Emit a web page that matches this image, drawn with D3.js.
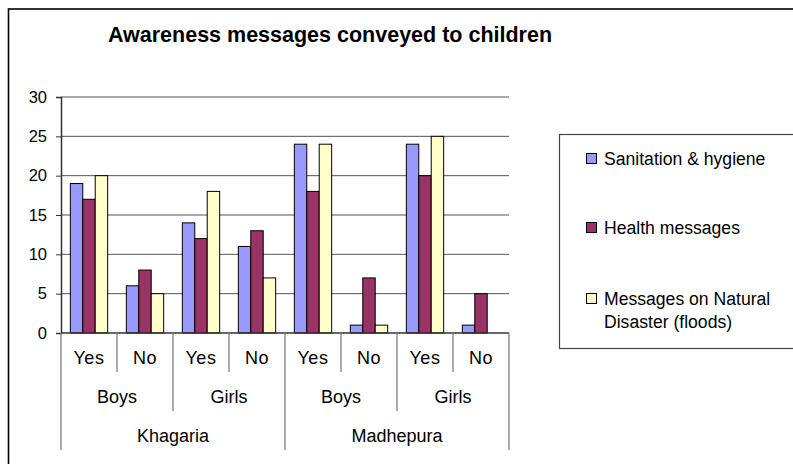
<!DOCTYPE html>
<html>
<head>
<meta charset="utf-8">
<script src="https://cdn.jsdelivr.net/npm/d3@7"></script>
<style>
  body { margin: 0; background: #fff; }
  svg { display: block; font-family: "Liberation Sans", Arial, sans-serif; }
</style>
</head>
<body>
<div id="chart"></div>
<script>
// chart data
var districts = ["Khagaria", "Madhepura"];
var genders = ["Boys", "Girls"];
var answers = ["Yes", "No"];
var seriesNames = ["Sanitation & hygiene", "Health messages", "Messages on Natural Disaster (floods)"];
var sanitation = [19, 6, 14, 11, 24, 1, 24, 1];
var health = [17, 8, 12, 13, 18, 7, 20, 5];
var disaster = [20, 5, 18, 7, 24, 1, 25, 0];
var yTicks = [0, 5, 10, 15, 20, 25, 30];

var colors = ["#9999ff", "#993366", "#ffffcc"];
var seriesValues = [sanitation, health, disaster];

var W = 793, H = 464;
var plotLeft = 61, plotRight = 509, plotTop = 97, plotBottom = 333;

// one category per district / gender / answer
var cats = [];
districts.forEach(function(d) {
    genders.forEach(function(g) {
        answers.forEach(function(a) {
            cats.push({ district: d, gender: g, answer: a, key: d + "|" + g + "|" + a });
        });
    });
});

var svg = d3.select("#chart").append("svg")
    .attr("width", W)
    .attr("height", H);

// outer chart border (runs off the right and bottom edges)
svg.append("rect")
    .attr("x", 8.5).attr("y", 9)
    .attr("width", W + 20).attr("height", H + 20)
    .attr("fill", "none")
    .attr("stroke", "#000")
    .attr("stroke-width", 1.6);

svg.append("text")
    .text("Awareness messages conveyed to children")
    .attr("x", 330).attr("y", 42)
    .attr("text-anchor", "middle")
    .attr("font-size", 21.5)
    .attr("font-weight", "bold");

var x = d3.scaleBand()
    .domain(cats.map(function(c) { return c.key; }))
    .range([plotLeft, plotRight])
    .paddingInner(1 / 3)
    .paddingOuter(1 / 6);

var xSub = d3.scaleBand()
    .domain(d3.range(seriesNames.length))
    .range([0, x.bandwidth()]);

var y = d3.scaleLinear().domain([0, 30]).range([plotBottom, plotTop]);

// gridlines
svg.append("g")
    .selectAll("line")
    .data(yTicks.slice(1))
    .join("line")
    .attr("x1", plotLeft).attr("x2", plotRight)
    .attr("y1", function(d) { return y(d); })
    .attr("y2", function(d) { return y(d); })
    .attr("stroke", "#555")
    .attr("stroke-width", 1);

// bars
var groups = svg.append("g")
    .selectAll("g")
    .data(cats)
    .join("g")
    .attr("transform", function(c) { return "translate(" + x(c.key) + ",0)"; });

groups.selectAll("rect")
    .data(function(c, i) {
        return seriesValues.map(function(vals, s) { return { s: s, v: vals[i] }; });
    })
    .join("rect")
    .filter(function(d) { return d.v > 0; })
    .attr("x", function(d) { return xSub(d.s); })
    .attr("width", xSub.bandwidth())
    .attr("y", function(d) { return y(d.v); })
    .attr("height", function(d) { return plotBottom - y(d.v); })
    .attr("fill", function(d) { return colors[d.s]; })
    .attr("stroke", "#000")
    .attr("stroke-width", 1);

// y axis
var yAxis = svg.append("g")
    .attr("transform", "translate(" + plotLeft + ",0)")
    .call(d3.axisLeft(y).tickValues(yTicks).tickSize(5).tickPadding(9));
yAxis.select(".domain").attr("stroke", "#333").attr("stroke-width", 1.5);
yAxis.selectAll(".tick line").attr("stroke", "#333");
yAxis.selectAll(".tick text")
    .attr("font-size", 16.5)
    .attr("font-family", "Liberation Sans, Arial, sans-serif")
    .attr("fill", "#000");

// x baseline
svg.append("line")
    .attr("x1", plotLeft).attr("x2", plotRight)
    .attr("y1", plotBottom).attr("y2", plotBottom)
    .attr("stroke", "#333").attr("stroke-width", 1.5);

// multi-level category axis
var step = x.step();
var gKeys = [];
districts.forEach(function(d) { genders.forEach(function(g) { gKeys.push(d + "|" + g); }); });
var xGender = d3.scaleBand().domain(gKeys).range([plotLeft, plotRight]);
var xDistrict = d3.scaleBand().domain(districts).range([plotLeft, plotRight]);

var axisColor = "#808080";
var sepEnd1 = 372, sepEnd2 = 411, sepEnd3 = 450;

// separators between the bands of each level
var bounds = d3.range(cats.length + 1).map(function(i) { return plotLeft + i * step; });
svg.append("g")
    .selectAll("line")
    .data(bounds)
    .join("line")
    .attr("x1", function(d) { return d; })
    .attr("x2", function(d) { return d; })
    .attr("y1", plotBottom)
    .attr("y2", function(d, i) {
        if (i % 4 === 0) return sepEnd3;
        if (i % 2 === 0) return sepEnd2;
        return sepEnd1;
    })
    .attr("stroke", axisColor)
    .attr("stroke-width", 1.3);

var labels = svg.append("g").attr("font-size", 18).attr("text-anchor", "middle");

labels.selectAll("text.ans")
    .data(cats)
    .join("text")
    .attr("class", "ans")
    .attr("x", function(c) { return x(c.key) + x.bandwidth() / 2; })
    .attr("y", 364)
    .attr("letter-spacing", 0.6)
    .text(function(c) { return c.answer; });

labels.selectAll("text.gen")
    .data(gKeys)
    .join("text")
    .attr("class", "gen")
    .attr("x", function(k) { return xGender(k) + xGender.bandwidth() / 2; })
    .attr("y", 403)
    .text(function(k) { return k.split("|")[1]; });

labels.selectAll("text.dist")
    .data(districts)
    .join("text")
    .attr("class", "dist")
    .attr("x", function(d) { return xDistrict(d) + xDistrict.bandwidth() / 2; })
    .attr("y", 442)
    .text(function(d) { return d; });

// legend
svg.append("rect")
    .attr("x", 559.5).attr("y", 134.5)
    .attr("width", 300).attr("height", 214)
    .attr("fill", "#fff")
    .attr("stroke", "#444")
    .attr("stroke-width", 1.2);

var legendY = [165, 234, 305];
var legend = svg.append("g").attr("font-size", 17.6);
var items = legend.selectAll("g")
    .data(seriesNames)
    .join("g")
    .attr("transform", function(d, i) { return "translate(586," + legendY[i] + ")"; });

items.append("rect")
    .attr("x", 0.5).attr("y", -11.5)
    .attr("width", 10).attr("height", 10)
    .attr("fill", function(d, i) { return colors[i]; })
    .attr("stroke", "#000")
    .attr("stroke-width", 1);

items.append("text")
    .attr("x", 18)
    .each(function(d) {
        var t = d3.select(this);
        var lines = d === seriesNames[2] ? ["Messages on Natural", "Disaster (floods)"] : [d];
        lines.forEach(function(line, j) {
            t.append("tspan").attr("x", 18).attr("dy", j === 0 ? 0 : 23).text(line);
        });
    });
</script>
</body>
</html>
